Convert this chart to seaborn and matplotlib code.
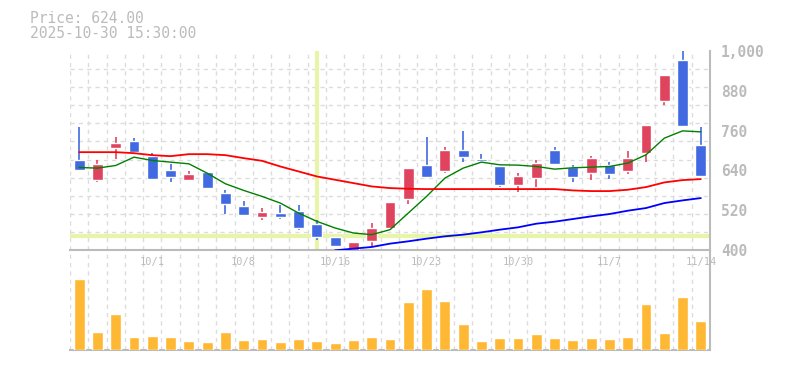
import numpy as np
import pandas as pd
import seaborn as sns
import matplotlib.pyplot as plt

# trading days shown on the chart
dates = ["9/25", "9/26", "9/29", "9/30", "10/1", "10/2", "10/3", "10/6", "10/7", "10/8",
         "10/9", "10/10", "10/14", "10/15", "10/16", "10/17", "10/20", "10/21", "10/22", "10/23",
         "10/24", "10/27", "10/28", "10/29", "10/30", "10/31", "11/4", "11/5", "11/6", "11/7",
         "11/10", "11/11", "11/12", "11/13", "11/14"]

opens = [672, 612, 708, 729, 684, 642, 612, 636, 573, 534,
         501, 513, 519, 480, 441, 402, 429, 468, 555, 657,
         639, 702, 675, 654, 597, 618, 702, 651, 633, 657,
         639, 693, 849, 972, 717]
highs = [770, 672, 741, 738, 693, 660, 639, 636, 582, 549,
         528, 537, 537, 492, 441, 426, 483, 546, 648, 741,
         711, 759, 690, 654, 633, 672, 711, 657, 684, 666,
         699, 777, 927, 1002, 771]
lows = [637, 604, 675, 696, 612, 606, 609, 588, 510, 507,
        492, 495, 462, 432, 414, 399, 414, 468, 540, 618,
        633, 666, 666, 591, 576, 591, 657, 606, 612, 615,
        630, 666, 837, 774, 624]
closes = [642, 660, 723, 696, 615, 619, 630, 588, 540, 507,
          516, 501, 468, 441, 414, 426, 468, 546, 648, 621,
          702, 681, 669, 597, 624, 663, 660, 621, 678, 630,
          678, 777, 927, 774, 624]

volumes = [214, 54, 108, 39, 42, 39, 27, 24, 54, 30,
           33, 24, 33, 27, 21, 30, 39, 33, 144, 183,
           147, 78, 27, 36, 36, 48, 36, 30, 36, 33,
           39, 138, 51, 159, 87]
volumes = [v * 1000 for v in volumes]

ma_short = [649, 647, 655, 680, 670, 665, 660, 632, 600, 580,
            562, 542, 512, 487, 467, 452, 447, 462, 512, 562,
            617, 647, 665, 657, 656, 652, 644, 648, 650, 652,
            662, 687, 737, 759, 756]
ma_mid = [695, 695, 695, 692, 686, 683, 689, 689, 686, 677,
          669, 652, 637, 622, 612, 602, 592, 587, 585, 584,
          584, 584, 584, 584, 584, 584, 584, 580, 578, 578,
          582, 590, 604, 611, 614]
# long average only visible from 10/16 on
ma_long_start = 14
ma_long = [400, 405, 410, 420, 427, 435, 442, 447, 454, 462,
           469, 480, 486, 494, 502, 509, 519, 527, 542, 550, 557]

price_ticks = [400, 520, 640, 760, 880, 1000]
date_ticks = ["10/1", "10/8", "10/16", "10/23", "10/30", "11/7", "11/14"]

up_color = "#e0435e"
down_color = "#4169e1"
vol_color = "#ffb833"
grid_color = "#dcdcdc"
text_color = "#bbbbbb"
mark_color = "#e6f5a8"

sns.set_theme(style="white")
plt.rcParams["font.family"] = ["DejaVu Sans Mono", "DejaVu Sans"]

n = len(dates)
idx = np.arange(n)
df = pd.DataFrame({"i": idx, "date": dates, "open": opens, "high": highs,
                   "low": lows, "close": closes, "volume": volumes,
                   "ma_short": ma_short, "ma_mid": ma_mid})
df["color"] = np.where(df["close"] >= df["open"], up_color, down_color)

fig = plt.figure(figsize=(7.85, 3.7), dpi=100)
ax = fig.add_axes([70 / 785, (370 - 250.3) / 370, 640 / 785, 199.6 / 370])
axv = fig.add_axes([70 / 785, (370 - 350) / 370, 640 / 785, 99.7 / 370])

# highlight markers
ax.axvline(13, color=mark_color, lw=3, zorder=1)
ax.axhline(443, color=mark_color, lw=3, zorder=1)

# candles
ax.vlines(df["i"], df["low"], df["high"], colors=df["color"], lw=1.2, zorder=3)
body_lo = np.minimum(df["open"], df["close"])
body_h = np.maximum(np.abs(df["close"] - df["open"]), 2)
ax.bar(df["i"], body_h, bottom=body_lo, width=0.6, color=df["color"], zorder=4)

# moving averages
sns.lineplot(x=idx, y=ma_short, color="green", lw=1, ax=ax, zorder=5)
sns.lineplot(x=idx, y=ma_mid, color="red", lw=1.3, ax=ax, zorder=5)
sns.lineplot(x=idx[ma_long_start:], y=ma_long, color="blue", lw=1.3, ax=ax, zorder=5)

ax.set_xlim(-0.5, n - 0.5)
ax.set_ylim(400, 1000)
ax.set_xticks([dates.index(d) for d in date_ticks])
ax.set_xticklabels(date_ticks, fontsize=7.5, color=text_color)
ax.set_xticks(np.arange(-0.5, n, 1), minor=True)
ax.set_yticks(price_ticks)
ax.set_yticklabels([f"{p:,}" for p in price_ticks], fontsize=10.5,
                   color=text_color, fontweight="bold")
ax.set_yticks(np.linspace(400, 1000, 12)[1:], minor=True)
ax.yaxis.tick_right()
ax.tick_params(axis="both", which="both", length=0)
ax.tick_params(axis="x", pad=5)
ax.tick_params(axis="y", pad=8)
for lab in ax.get_yticklabels():
    lab.set_verticalalignment("center_baseline")
ax.grid(which="minor", color=grid_color, ls=(0, (3, 3)), lw=1)
ax.grid(which="major", visible=False)
ax.set_xlabel("")
ax.set_ylabel("")
for side in ["top", "left"]:
    ax.spines[side].set_visible(False)
for side in ["bottom", "right"]:
    ax.spines[side].set_color(text_color)
    ax.spines[side].set_linewidth(1.5)
ax.patch.set_alpha(0)

# volume panel
sns.barplot(data=df, x="i", y="volume", color=vol_color, width=0.6,
            saturation=1, ax=axv, native_scale=True, zorder=3)
axv.set_xlim(-0.5, n - 0.5)
axv.set_ylim(0, 299000)
axv.set_xticks(np.arange(-0.5, n, 1), minor=True)
axv.set_xticks([])
axv.set_yticks([])
axv.tick_params(which="both", length=0)
axv.grid(which="minor", axis="x", color=grid_color, ls=(0, (3, 3)), lw=1)
axv.set_xlabel("")
axv.set_ylabel("")
for side in ["top", "left"]:
    axv.spines[side].set_visible(False)
for side in ["bottom", "right"]:
    axv.spines[side].set_color(text_color)
    axv.spines[side].set_linewidth(1.5)
ax.set_zorder(2)

fig.text(30 / 785, 1 - 18.5 / 370, "Price: 624.00", fontsize=10.5,
         color=text_color, va="center", ha="left")
fig.text(30 / 785, 1 - 33.5 / 370, "2025-10-30 15:30:00", fontsize=10.5,
         color=text_color, va="center", ha="left")

fig.savefig("out.png", dpi=100)
